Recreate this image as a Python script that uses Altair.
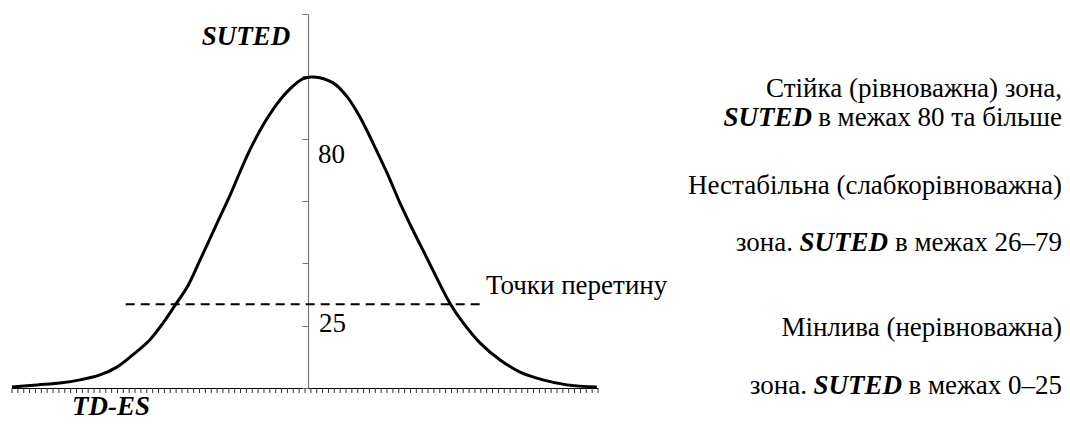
import altair as alt
import pandas as pd

# Bell curve (x: TD-ES units, y: SUTED)
CURVE_X = [-50.5, -46.2, -42.3, -38.9, -35.5, -32.6, -29.9, -27.0, -24.7, -22.4,
           -20.6, -18.4, -15.5, -13.3, -11.6, -9.9, -7.7, -5.3, -3.1, -0.9,
           0.9, 4.3, 6.7, 8.9, 11.1, 13.5, 15.7, 17.9, 20.3, 21.3,
           24.2, 26.5, 29.4, 32.8, 36.2, 40.1, 44.2, 49.3]
CURVE_Y = [0.3, 1.0, 1.6, 2.6, 4.2, 6.7, 10.6, 15.4, 20.9, 27.3,
           32.4, 41.1, 52.9, 61.8, 69.3, 76.4, 84.2, 91.1, 95.9, 99.2,
           99.8, 97.9, 93.4, 86.9, 78.6, 69.0, 59.4, 50.7, 41.7, 37.9,
           27.3, 20.9, 14.4, 9.0, 5.1, 2.6, 1.0, 0.3]

# Intersection line
CROSS_X1 = [-31.1]
CROSS_X2 = [29.9]
CROSS_Y = [26.9]

X_TICKS = [k + 0.5 for k in range(-51, 50)]
Y_TICKS = [0, 20, 40, 60, 80, 100, 120]

FONT = "Liberation Serif"
FS = 27

curve = pd.DataFrame({"x": CURVE_X, "y": CURVE_Y})
cross = pd.DataFrame({"x1": CROSS_X1, "x2": CROSS_X2, "y": CROSS_Y})
ticks = pd.DataFrame({"t": X_TICKS})

xscale = alt.Scale(domain=[-50.5, 49.5], nice=False, zero=False)
yscale = alt.Scale(domain=[0, 120], nice=False, zero=False)

line = alt.Chart(curve).mark_line(
    color="black", strokeWidth=3, interpolate="catmull-rom"
).encode(
    x=alt.X("x:Q", scale=xscale,
            axis=alt.Axis(labels=False, ticks=False, title=None,
                          domainColor="black", grid=False, domainWidth=1)),
    y=alt.Y("y:Q", scale=yscale,
            axis=alt.Axis(values=Y_TICKS, labels=False, title=None, tickSize=6,
                          offset=-296, domainColor="#777", tickColor="#777",
                          grid=False, domainWidth=1.2, tickWidth=1)),
)

xticks = alt.Chart(ticks).mark_rule(color="#333", strokeWidth=1).encode(
    x=alt.X("t:Q", scale=xscale), y=alt.value(374), y2=alt.value(379)
)

rule = alt.Chart(cross).mark_rule(
    color="black", strokeWidth=2, strokeDash=[9, 6]
).encode(x="x1:Q", x2="x2:Q", y="y:Q")


def txt(s, px, py, align="left", bold=False):
    # py: baseline position (page pixels)
    kw = dict(text=s, align=align, baseline="alphabetic", font=FONT, fontSize=FS,
              color="black")
    if bold:
        kw.update(fontWeight="bold", fontStyle="italic")
    return alt.Chart(cross).mark_text(**kw).encode(
        x=alt.value(px - 12), y=alt.value(py - 14)
    )


texts = [
    txt("SUTED", 246, 45, "center", True),
    txt("TD-ES", 111, 415, "center", True),
    txt("80", 318, 163),
    txt("25", 319, 332),
    txt("Точки перетину", 486, 294),
    txt("Стійка (рівноважна) зона,", 1062, 97, "right"),
    txt("SUTED", 812, 126, "right", True),
    txt("в межах 80 та більше", 1062, 126, "right"),
    txt("Нестабільна (слабкорівноважна)", 1062, 194, "right"),
    txt("зона.", 793, 251, "right"),
    txt("SUTED", 888, 251, "right", True),
    txt("в межах 26–79", 1062, 251, "right"),
    txt("Мінлива (нерівноважна)", 1062, 336, "right"),
    txt("зона.", 807, 394, "right"),
    txt("SUTED", 902, 394, "right", True),
    txt("в межах 0–25", 1062, 394, "right"),
]

chart = alt.layer(line, xticks, rule, *texts).properties(
    width=586, height=374,
    padding={"left": 4, "top": 6, "right": 464, "bottom": 32},
    autosize=alt.AutoSizeParams(type="none"),
    background="white",
).configure_view(stroke=None)

chart.save("out.html", embed_options={"renderer": "svg", "actions": False})
